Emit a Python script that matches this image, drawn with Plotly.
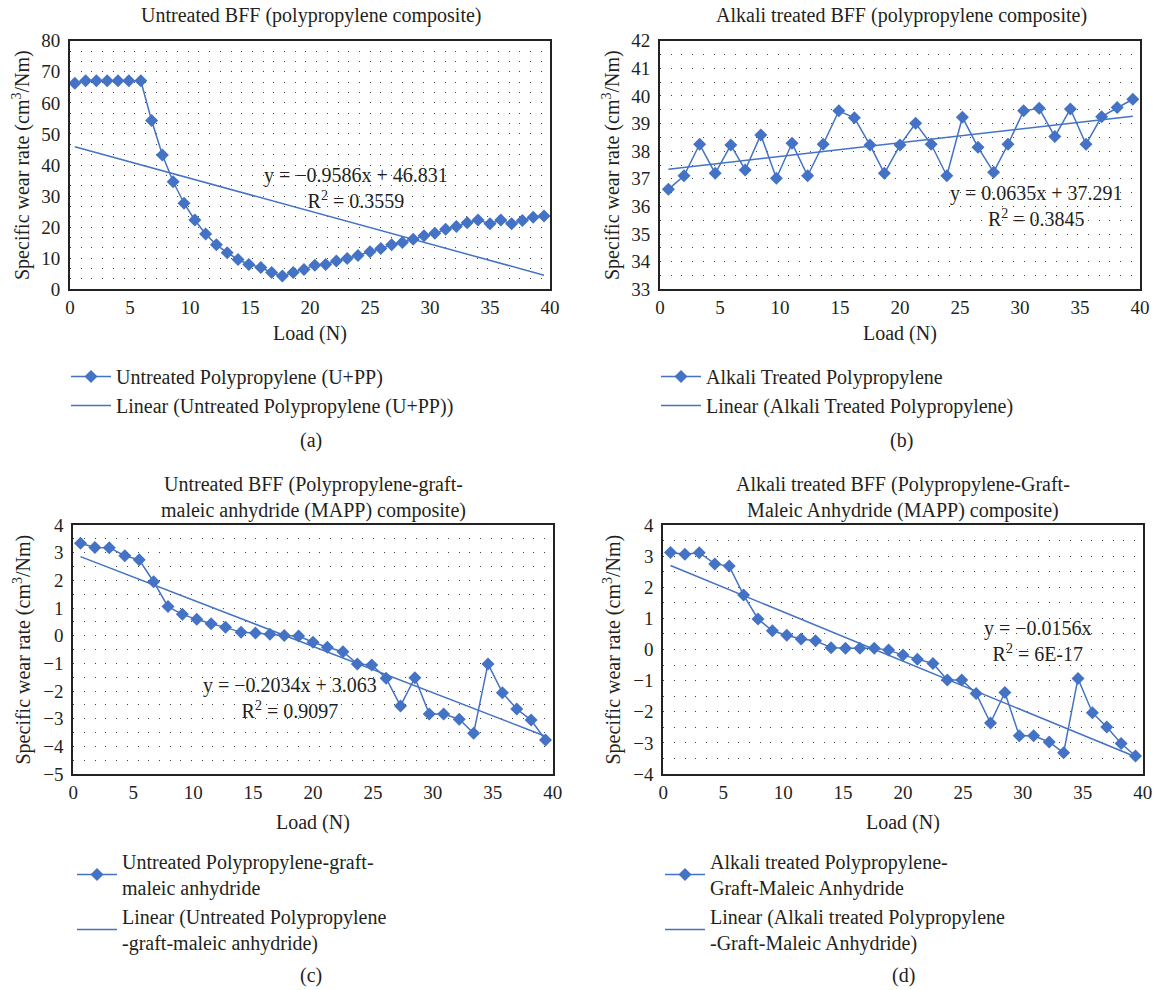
import numpy as np
import plotly.graph_objects as go

# ---------------- data ----------------
load_a = [0.4, 1.3, 2.2, 3.1, 4.0, 4.9, 5.9, 6.8, 7.7, 8.6, 9.5, 10.4, 11.3, 12.2, 13.1,
          14.0, 14.9, 15.9, 16.8, 17.7, 18.6, 19.5, 20.4, 21.3, 22.2, 23.1, 24.0, 25.0,
          25.9, 26.8, 27.7, 28.6, 29.5, 30.4, 31.3, 32.2, 33.1, 34.0, 35.0, 35.9, 36.8,
          37.7, 38.6, 39.5]
wear_a = [66.3, 67.1, 67.1, 67.1, 67.1, 67.1, 67.1, 54.3, 43.2, 34.6, 27.7, 22.3, 17.8,
          14.3, 11.8, 9.6, 8.0, 7.0, 5.4, 4.3, 5.4, 6.4, 7.7, 8.0, 9.1, 9.9, 10.9, 12.1,
          13.1, 14.3, 15.1, 16.1, 17.2, 18.0, 19.3, 20.2, 21.4, 22.3, 21.1, 22.3, 21.1,
          22.1, 23.2, 23.6]

load_b = [0.7, 2.0, 3.3, 4.6, 5.9, 7.1, 8.4, 9.7, 11.0, 12.3, 13.6, 14.9, 16.2, 17.5,
          18.7, 20.0, 21.3, 22.6, 23.9, 25.2, 26.5, 27.8, 29.0, 30.3, 31.6, 32.9, 34.2,
          35.5, 36.8, 38.1, 39.4]
wear_b = [36.62, 37.11, 38.25, 37.20, 38.22, 37.32, 38.59, 37.02, 38.29, 37.11, 38.25,
          39.46, 39.21, 38.22, 37.20, 38.22, 39.01, 38.25, 37.11, 39.23, 38.14, 37.24,
          38.25, 39.46, 39.55, 38.53, 39.53, 38.25, 39.25, 39.58, 39.88]

load_cd = [0.6, 1.8, 3.0, 4.3, 5.5, 6.7, 7.9, 9.1, 10.3, 11.5, 12.7, 14.0, 15.2, 16.4,
           17.6, 18.8, 20.0, 21.2, 22.5, 23.7, 24.9, 26.1, 27.3, 28.5, 29.7, 30.9, 32.2,
           33.4, 34.6, 35.8, 37.0, 38.2, 39.4]
wear_c = [3.34, 3.19, 3.18, 2.89, 2.74, 1.95, 1.05, 0.77, 0.59, 0.43, 0.30, 0.12, 0.10,
          0.05, 0.01, -0.01, -0.24, -0.42, -0.58, -1.02, -1.06, -1.54, -2.54, -1.52,
          -2.83, -2.83, -3.02, -3.53, -1.02, -2.06, -2.65, -3.05, -3.77]
wear_d = [3.12, 3.06, 3.11, 2.75, 2.68, 1.75, 0.98, 0.60, 0.46, 0.34, 0.28, 0.06, 0.04,
          0.04, 0.04, -0.02, -0.18, -0.31, -0.45, -0.98, -0.98, -1.41, -2.36, -1.38,
          -2.77, -2.77, -2.97, -3.32, -0.93, -2.03, -2.49, -3.02, -3.42]

titles = ["Untreated BFF (polypropylene composite)",
          "Alkali treated BFF (polypropylene composite)",
          "Untreated BFF (Polypropylene-graft-<br>maleic anhydride (MAPP) composite)",
          "Alkali treated BFF (Polypropylene-Graft-<br>Maleic Anhydride (MAPP) composite)"]
series_names = ["Untreated Polypropylene (U+PP)",
                "Alkali Treated Polypropylene",
                "Untreated Polypropylene-graft-<br>maleic anhydride",
                "Alkali treated Polypropylene-<br>Graft-Maleic Anhydride"]
trend_names = ["Linear (Untreated Polypropylene (U+PP))",
               "Linear (Alkali Treated Polypropylene)",
               "Linear (Untreated Polypropylene<br>-graft-maleic anhydride)",
               "Linear (Alkali treated Polypropylene<br>-Graft-Maleic Anhydride)"]
equations = ["y = \u22120.9586x + 46.831<br>R<sup>2</sup> = 0.3559",
             "y = 0.0635x + 37.291<br>R<sup>2</sup> = 0.3845",
             "y = \u22120.2034x + 3.063<br>R<sup>2</sup> = 0.9097",
             "y = \u22120.0156x<br>R<sup>2</sup> = 6E-17"]
panel_labels = ["(a)", "(b)", "(c)", "(d)"]
y_ranges = [[0, 80], [33, 42], [-5, 4], [-4, 4]]
y_dticks = [10, 1, 1, 1]
y_minor = [10 / 3, 0.5, 0.5, 0.5]

# ---------------- layout helpers ----------------
W, H = 1157, 990
FONT = "Liberation Serif"
BLUE = "#4472C4"
TXT = "#231f20"


def px(x):
    return x / W


def py(y):
    return 1 - y / H


# plot frames in page pixels: (left, right, top, bottom)
frames = [(70, 550, 40.7, 289.3), (660, 1140, 40.7, 289.3),
          (73.3, 552.7, 525, 774), (663.3, 1142.7, 525, 774)]
title_pos = [(311, 16), (901, 16), (313, 497), (903, 497)]
eq_pos = [(356, 188), (1036, 206), (290, 698), (1038, 641)]
label_pos = [(311, 440), (901, 440), (311, 975), (903, 975)]
load_pos = [(310, 334), (900, 334), (313, 822), (903, 822)]
ytitle_x = [22, 612, 22, 612]
legend_pos = [(66, 357), (656, 357), (72, 842), (660, 842)]

xs = [load_a, load_b, load_cd, load_cd]
ys = [wear_a, wear_b, wear_c, wear_d]

fig = go.Figure()
annotations = []


def ann(text, x, y, size, **kw):
    d = dict(text=text, x=px(x), y=py(y), xref="paper", yref="paper",
             showarrow=False, xanchor="center", yanchor="middle",
             font=dict(family=FONT, size=size, color=TXT))
    d.update(kw)
    return d


for i in range(4):
    xa = "x" if i == 0 else f"x{i+1}"
    ya = "y" if i == 0 else f"y{i+1}"
    leg = "legend" if i == 0 else f"legend{i+1}"
    x = np.array(xs[i])
    y = np.array(ys[i])
    fig.add_trace(go.Scatter(
        x=x, y=y, mode="lines+markers", name=series_names[i],
        line=dict(color=BLUE, width=1.5),
        marker=dict(symbol="diamond", size=10, color=BLUE),
        xaxis=xa, yaxis=ya, legend=leg))
    slope, icpt = np.polyfit(x, y, 1)
    xt = np.array([x.min(), x.max()])
    fig.add_trace(go.Scatter(
        x=xt, y=slope * xt + icpt, mode="lines", name=trend_names[i],
        line=dict(color=BLUE, width=1.5),
        xaxis=xa, yaxis=ya, legend=leg))

    l, r, t, b = frames[i]
    axis_common = dict(showline=True, mirror=True, linecolor="#222", linewidth=2,
                       ticks="", zeroline=False,
                       tickfont=dict(family=FONT, size=19, color=TXT))
    fig.update_layout(**{
        ("xaxis" if i == 0 else f"xaxis{i+1}"): dict(
            domain=[px(l), px(r)], anchor=ya, range=[0, 40], dtick=5,
            showgrid=False, **axis_common),
        ("yaxis" if i == 0 else f"yaxis{i+1}"): dict(
            domain=[py(b), py(t)], anchor=xa, range=y_ranges[i], dtick=y_dticks[i],
            showgrid=True, gridcolor="#444", gridwidth=1.2, griddash="1px,9.7px",
            minor=dict(dtick=y_minor[i], showgrid=True, gridcolor="#444",
                       gridwidth=1.2, griddash="1px,9.7px"),
            ticklabelstandoff=4, **axis_common),
        leg: dict(x=px(legend_pos[i][0]), y=py(legend_pos[i][1]),
                  xanchor="left", yanchor="top", bgcolor="rgba(0,0,0,0)",
                  font=dict(family=FONT, size=20, color=TXT),
                  traceorder="normal", itemwidth=40),
    })

    annotations.append(ann(titles[i], *title_pos[i], 20))
    annotations.append(ann(equations[i], *eq_pos[i], 20))
    annotations.append(ann(panel_labels[i], *label_pos[i], 20))
    annotations.append(ann("Load (N)", *load_pos[i], 20))
    annotations.append(ann("Specific wear rate (cm<sup>3</sup>/Nm)",
                           ytitle_x[i], (t + b) / 2, 20, textangle=-90))

fig.update_layout(width=W, height=H,
                  margin=dict(l=0, r=0, t=0, b=0, autoexpand=False),
                  paper_bgcolor="white", plot_bgcolor="white",
                  annotations=annotations, showlegend=True)
fig.write_html("out.html", config={"displayModeBar": False},
               post_script="document.body.style.margin='0px';")
